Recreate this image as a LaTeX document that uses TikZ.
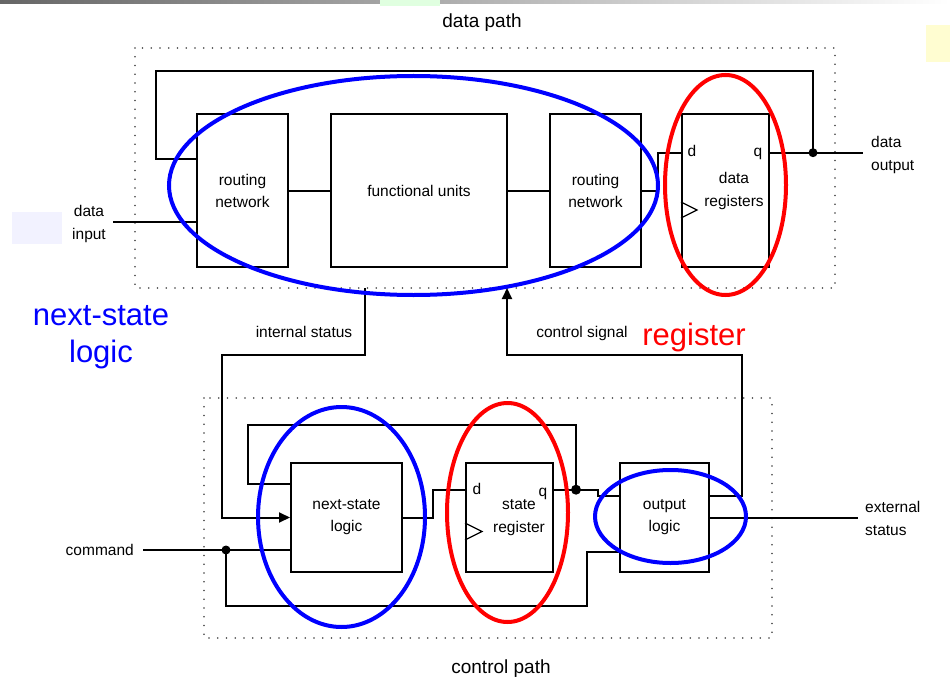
\documentclass[tikz,border=0pt]{standalone}
\usepackage{fontspec}
\setmainfont{Liberation Sans}
\usetikzlibrary{arrows.meta,calc}
\begin{document}
\begin{tikzpicture}[x=1pt,y=-1pt,
  box/.style={draw=black,line width=2pt,inner sep=0pt,align=center,font=\fontsize{15.5}{22}\selectfont},
  wire/.style={draw=black,line width=2pt},
  arr/.style={wire,-{Triangle[length=11pt,width=10pt]}},
  jdot/.style={fill=black},
  dotbox/.style={draw=black!75,line width=1.8pt,line cap=round,dash pattern=on 0pt off 8.75pt},
  lbl/.style={inner sep=0pt,align=center,font=\fontsize{15.5}{22.5}\selectfont},
  ttl/.style={inner sep=0pt,font=\fontsize{19}{22}\selectfont},
  big/.style={inner sep=0pt,align=center,font=\fontsize{31}{37}\selectfont},
  hlblue/.style={draw=blue,line width=4pt},
  hlred/.style={draw=red,line width=4pt}]
% canvas
\fill[white] (0,0) rectangle (950,682);
\useasboundingbox (0,0) rectangle (950,682);
\shade[left color=black!60,right color=white] (0,0) rectangle (950,4);
\fill[green!12] (380,0) rectangle (440,6);
\fill[yellow!18] (926,25) rectangle (950,62);
\fill[blue!5] (12,212) rectangle (62,244);

% dotted regions
\draw[dotbox] (135,48) rectangle (835,288);
\draw[dotbox] (204,398) rectangle (772,638);
\node[ttl] (tdp) at (482,23) {data path};
\node[ttl] (tcp) at (501,669) {control path};

% data path boxes
\node[box,minimum width=91pt,minimum height=153pt] (rn1) at (242.5,190.5) {routing\\network};
\node[box,minimum width=176pt,minimum height=153pt] (fu) at (419,190.5) {functional units};
\node[box,minimum width=91pt,minimum height=153pt] (rn2) at (595.5,190.5) {routing\\network};
\node[box,minimum width=87pt,minimum height=153pt] (dr) at (725.5,190.5) {};
\node[lbl] (drl) at (734,191) {data\\registers};
\node[lbl,anchor=base] (drd) at (692,157) {d};
\node[lbl,anchor=base] (drq) at (758,157) {q};
\draw[line width=1.2pt] (dr.west |- 0,202) -- (697,210) -- (dr.west |- 0,218);

% control path boxes
\node[box,minimum width=111pt,minimum height=109pt] (nsl) at (346.5,517.5) {next-state\\logic};
\node[box,minimum width=87pt,minimum height=109pt] (sr) at (509.5,517.5) {};
\node[lbl] (srl) at (519,517.5) {state\\register};
\node[lbl,anchor=base] (srd) at (477,494) {d};
\node[lbl,anchor=base] (srq) at (543,496) {q};
\draw[line width=1.2pt] (sr.west |- 0,523) -- (482,531.5) -- (sr.west |- 0,540);
\node[box,minimum width=89pt,minimum height=109pt] (ol) at (664.5,517.5) {output\\logic};

% coordinates
\coordinate (din) at (113,221.7);
\coordinate (dq) at (813,152.7);
\coordinate (dout) at (863,152.7);
\coordinate (istop) at (365,288);
\coordinate (cstip) at (507,288);
\coordinate (cmd) at (143,550);
\coordinate (cdot) at (226,550);
\coordinate (sq) at (576,489.7);
\coordinate (ext) at (858,517.5);

% data path wires
\draw[wire] (din) -- (rn1.west |- din);
\draw[wire] (rn1) -- (fu);
\draw[wire] (fu) -- (rn2);
\draw[wire] (rn2.east) -- (658,190.5) -- (658,152.7) -- (dr.west |- dq);
\draw[wire] (dr.east |- dq) -- (dout);
\draw[wire] (dq) -- (813,71) -- (156,71) -- (156,159) -- (rn1.west |- 0,159);
\fill[jdot] (dq) circle (4.5pt);

% inter-path wires
\draw[arr] (istop) -- (365,355) -- (222,355) -- (222,517.5) -- (nsl.west);
\draw[arr] (ol.east |- 0,496) -- (742,496) -- (742,355) -- (507,355) -- (cstip);

% control path wires
\draw[wire] (cmd) -- (nsl.west |- cmd);
\draw[wire] (cdot) -- (226,606) -- (587,606) -- (587,552) -- (ol.west |- 0,552);
\fill[jdot] (cdot) circle (4.5pt);
\draw[wire] (nsl.east) -- (433,517.5) -- (433,490) -- (sr.west |- 0,490);
\draw[wire] (sr.east |- sq) -- (598,489.7) -- (598,496) -- (ol.west |- 0,496);
\draw[wire] (sq) -- (576,425) -- (248,425) -- (248,484) -- (nsl.west |- 0,484);
\fill[jdot] (sq) circle (5pt);
\draw[wire] (ol.east) -- (ext);

% labels
\node[lbl] (ldin) at (89,224) {data\\input};
\node[lbl,anchor=west,align=left] (ldout) at (871,155) {data\\output};
\node[lbl,anchor=east] (lcmd) at (134,550) {command};
\node[lbl,anchor=west,align=left] (lext) at (865,518.5) {external\\status};
\node[lbl] (lis) at (304,332) {internal status};
\node[lbl] (lcs) at (582,333) {control signal};
\node[big,text=blue] (bnsl) at (101,337) {next-state\\logic};
\node[big,text=red] (breg) at (694,337) {register};

% highlight ellipses
\draw[hlblue] (413.5,185.5) ellipse [x radius=244.5pt, y radius=109.5pt];
\draw[hlred] (725.5,185) ellipse [x radius=60.5pt, y radius=110pt];
\draw[hlblue] (341.5,517) ellipse [x radius=83.5pt, y radius=110pt];
\draw[hlred] (507.5,512.5) ellipse [x radius=60.5pt, y radius=109.5pt];
\draw[hlblue] (670.5,516.5) ellipse [x radius=75.5pt, y radius=46.5pt];
\end{tikzpicture}
\end{document}
